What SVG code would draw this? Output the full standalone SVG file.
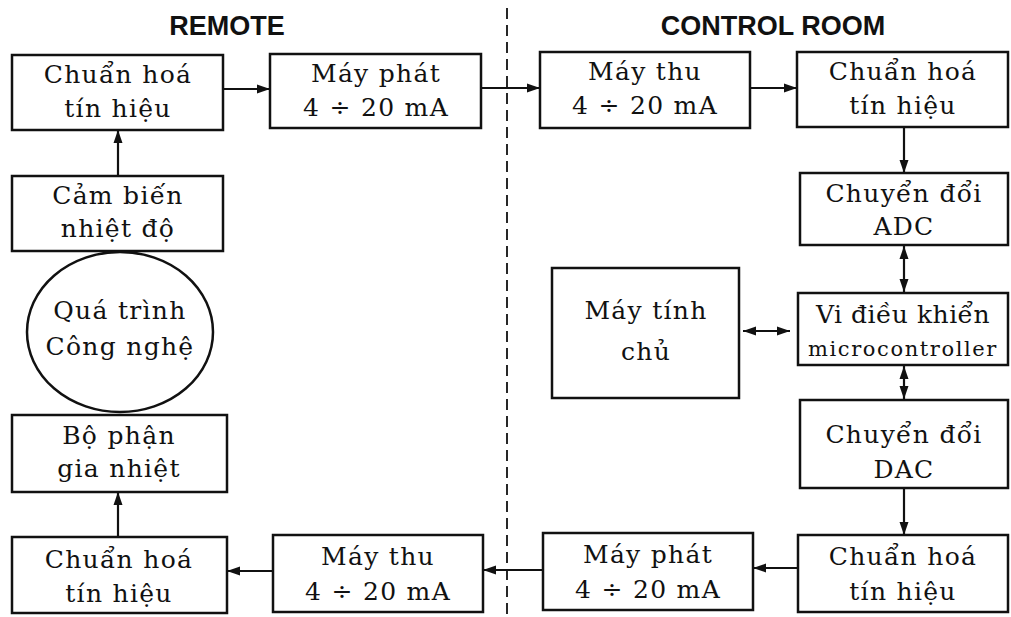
<svg xmlns="http://www.w3.org/2000/svg" width="1011" height="617" viewBox="0 0 1011 617">
<defs>
<marker id="ah" markerUnits="userSpaceOnUse" markerWidth="14" markerHeight="10" refX="13" refY="5" orient="auto-start-reverse">
<path d="M0,0.5 L13,5 L0,9.5 z" fill="#111"/>
</marker>
<style>
.box{fill:#fff;stroke:#111;stroke-width:2.5}
.t{font-family:"DejaVu Serif","Liberation Serif",serif;font-size:25px;fill:#111;text-anchor:middle;letter-spacing:1.3px}
.s{font-family:"DejaVu Serif","Liberation Serif",serif;font-size:21px;fill:#111;text-anchor:middle;letter-spacing:1.6px}
.h{font-family:"Liberation Sans",Arial,sans-serif;font-size:27px;font-weight:bold;fill:#111;text-anchor:middle}
.c{fill:none;stroke:#111;stroke-width:2.2}
.dash{fill:none;stroke:#111;stroke-width:1.8;stroke-dasharray:11 6}
</style>
</defs>
<rect width="1011" height="617" fill="#fff"/>
<text class="h" x="227" y="35">REMOTE</text>
<text class="h" x="773" y="35">CONTROL ROOM</text>
<line class="dash" x1="507" y1="8" x2="507" y2="617"/>

<g id="connectors">
<line class="c" x1="223" y1="89" x2="270" y2="89" marker-end="url(#ah)"/>
<line class="c" x1="481" y1="88" x2="540" y2="88" marker-end="url(#ah)"/>
<line class="c" x1="750" y1="88" x2="797" y2="88" marker-end="url(#ah)"/>
<line class="c" x1="904" y1="127" x2="904" y2="173" marker-end="url(#ah)"/>
<line class="c" x1="904" y1="246" x2="904" y2="292" marker-start="url(#ah)" marker-end="url(#ah)"/>
<line class="c" x1="743" y1="331" x2="790" y2="331" marker-start="url(#ah)" marker-end="url(#ah)"/>
<line class="c" x1="904" y1="366" x2="904" y2="399" marker-start="url(#ah)" marker-end="url(#ah)"/>
<line class="c" x1="904" y1="488" x2="904" y2="535" marker-end="url(#ah)"/>
<line class="c" x1="798" y1="568" x2="753" y2="568" marker-end="url(#ah)"/>
<line class="c" x1="543" y1="570" x2="483" y2="570" marker-end="url(#ah)"/>
<line class="c" x1="273" y1="571" x2="227" y2="571" marker-end="url(#ah)"/>
<line class="c" x1="118" y1="537" x2="118" y2="492" marker-end="url(#ah)"/>
<line class="c" x1="118" y1="176" x2="118" y2="130" marker-end="url(#ah)"/>
</g>

<g id="n1">
<rect class="box" x="12" y="55" width="211" height="75"/>
<text class="t" x="118" y="83">Chuẩn hoá</text>
<text class="t" x="118" y="117">tín hiệu</text>
</g>
<g id="n2">
<rect class="box" x="270" y="54" width="211" height="74"/>
<text class="t" x="376" y="82">Máy phát</text>
<text class="t" x="376" y="116">4 ÷ 20 mA</text>
</g>
<g id="n3">
<rect class="box" x="540" y="52" width="210" height="76"/>
<text class="t" x="645" y="80">Máy thu</text>
<text class="t" x="645" y="114">4 ÷ 20 mA</text>
</g>
<g id="n4">
<rect class="box" x="797" y="52" width="211" height="75"/>
<text class="t" x="903" y="80">Chuẩn hoá</text>
<text class="t" x="903" y="114">tín hiệu</text>
</g>
<g id="n5">
<rect class="box" x="12" y="176" width="211" height="75"/>
<text class="t" x="118" y="204">Cảm biến</text>
<text class="t" x="118" y="237">nhiệt độ</text>
</g>
<g id="n6">
<ellipse class="box" cx="120" cy="332" rx="93" ry="80"/>
<text class="t" x="120" y="319">Quá trình</text>
<text class="t" x="120" y="355">Công nghệ</text>
</g>
<g id="n7">
<rect class="box" x="12" y="415" width="215" height="77"/>
<text class="t" x="119" y="444">Bộ phận</text>
<text class="t" x="119" y="477">gia nhiệt</text>
</g>
<g id="n8">
<rect class="box" x="12" y="537" width="215" height="76"/>
<text class="t" x="119" y="568">Chuẩn hoá</text>
<text class="t" x="119" y="602">tín hiệu</text>
</g>
<g id="n9">
<rect class="box" x="273" y="535" width="210" height="77"/>
<text class="t" x="378" y="565">Máy thu</text>
<text class="t" x="378" y="600">4 ÷ 20 mA</text>
</g>
<g id="n10">
<rect class="box" x="543" y="533" width="210" height="77"/>
<text class="t" x="648" y="563">Máy phát</text>
<text class="t" x="648" y="598">4 ÷ 20 mA</text>
</g>
<g id="n11">
<rect class="box" x="798" y="535" width="210" height="77"/>
<text class="t" x="903" y="565">Chuẩn hoá</text>
<text class="t" x="903" y="600">tín hiệu</text>
</g>
<g id="n12">
<rect class="box" x="800" y="400" width="208" height="88"/>
<text class="t" x="904" y="443">Chuyển đổi</text>
<text class="t" x="904" y="478">DAC</text>
</g>
<g id="n13">
<rect class="box" x="800" y="173" width="208" height="72"/>
<text class="t" x="904" y="202">Chuyển đổi</text>
<text class="t" x="904" y="235">ADC</text>
</g>
<g id="n14">
<rect class="box" x="798" y="293" width="210" height="72"/>
<text class="t" x="903" y="323" style="letter-spacing:0.5px">Vi điều khiển</text>
<text class="s" x="903" y="356">microcontroller</text>
</g>
<g id="n15">
<rect class="box" x="552" y="268" width="187" height="130"/>
<text class="t" x="646" y="319">Máy tính</text>
<text class="t" x="646" y="360">chủ</text>
</g>
</svg>
